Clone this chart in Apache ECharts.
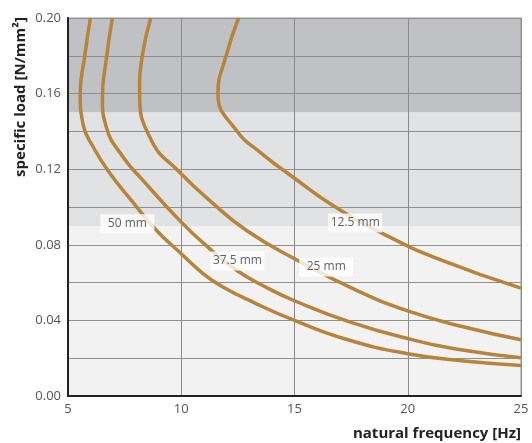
<!DOCTYPE html>
<html>
<head>
<meta charset="utf-8">
<script src="https://cdn.jsdelivr.net/npm/echarts@6/dist/echarts.min.js"></script>
<style>html,body{margin:0;padding:0;background:#fff}#c{width:532px;height:443px}</style>
</head>
<body>
<div id="c"></div>
<script>
// x: natural frequency [Hz], y: specific load [N/mm²]
const curve50 = [[5.99,0.200],[5.74,0.180],[5.54,0.160],[5.66,0.144],[6.10,0.132],[6.84,0.118],[7.80,0.1035],[8.90,0.0877],[10.0,0.0753],[10.96,0.0648],[11.84,0.0577],[13.16,0.0497],[15.0,0.0400],[17.43,0.0295],[20.0,0.0224],[22.49,0.0185],[25.0,0.0162]];
const curve375 = [[6.96,0.200],[6.71,0.180],[6.52,0.1575],[6.69,0.1423],[7.43,0.1265],[8.31,0.1141],[10.0,0.0920],[11.25,0.0780],[12.44,0.0665],[13.72,0.0577],[15.0,0.0504],[17.43,0.0392],[20.0,0.0304],[22.49,0.0242],[25.0,0.0203]];
const curve25 = [[8.65,0.200],[8.28,0.180],[8.16,0.161],[8.68,0.1353],[9.93,0.1184],[11.25,0.1035],[12.87,0.0877],[15.0,0.0726],[17.72,0.0560],[20.0,0.0450],[22.49,0.0365],[25.0,0.0298]];
const curve125 = [[12.53,0.200],[11.98,0.180],[11.62,0.160],[12.43,0.1406],[13.54,0.1284],[15.0,0.1152],[16.68,0.1009],[18.90,0.0859],[21.40,0.0723],[25.0,0.0571]];
const seriesNames = ['50 mm','37.5 mm','25 mm','12.5 mm'];
const labelPoints = [[7.62,0.0911,'50 mm'],[12.48,0.0714,'37.5 mm'],[16.4,0.0683,'25 mm'],[17.68,0.0916,'12.5 mm']];
const bands = [[0.15,0.20,'#c0c1c4'],[0.09,0.15,'#e1e2e4'],[0.00,0.09,'#f2f2f2']];
const xTicks = {min:5, max:25, interval:5};
const yTicks = {min:0, max:0.2, interval:0.02, labelEvery:0.04};

const curveColor = '#b6843b';
const chart = echarts.init(document.getElementById('c'), null, {renderer:'canvas'});
const curves = [curve50, curve375, curve25, curve125];
const series = curves.map((d,i)=>({
  name: seriesNames[i], type:'line', data:d, smooth:0.5, symbol:'none',
  lineStyle:{color:curveColor,width:3.5}, z:5, silent:true
}));
series.unshift({
  name:'bands', type:'line', data:[], z:1, silent:true,
  markArea:{silent:true, z:1, data: bands.map(b=>[{yAxis:b[0], itemStyle:{color:b[2]}},{yAxis:b[1]}])}
});
series.push({
  name:'labels', type:'scatter', symbolSize:1, itemStyle:{color:'rgba(0,0,0,0)'}, z:7, silent:true,
  data: labelPoints.map(p=>({value:[p[0],p[1]], name:p[2]})),
  label:{show:true, position:'inside', formatter:p=>p.name, color:'#3a3a3a', fontSize:12,
    fontFamily:'Open Sans', backgroundColor:'#fff', width:54, align:'center', lineHeight:13, padding:[3,0,3,0]}
});
chart.setOption({
  animation:false,
  grid:{left:68, right:11, top:18, bottom:47, show:true, z:3, borderColor:'#9a9a9a', borderWidth:1, backgroundColor:'transparent'},
  xAxis:{type:'value', min:xTicks.min, max:xTicks.max, interval:xTicks.interval, z:3,
    axisLine:{show:true, onZero:false, lineStyle:{color:'#222',width:2}},
    axisTick:{show:false},
    axisLabel:{color:'#555', fontSize:13, fontFamily:'Open Sans', margin:7},
    splitLine:{show:true, lineStyle:{color:'#8a8a8a',width:1}}},
  yAxis:{type:'value', min:yTicks.min, max:yTicks.max, interval:yTicks.interval, z:3,
    axisLine:{show:true, onZero:false, lineStyle:{color:'#222',width:2}},
    axisTick:{show:false},
    axisLabel:{color:'#555', fontSize:13, fontFamily:'Open Sans', margin:7,
      formatter:v=>{const k=Math.round(v*100); return (k%Math.round(yTicks.labelEvery*100)===0)? v.toFixed(2):'';}},
    splitLine:{show:true, lineStyle:{color:'#8f8f8f',width:1}}},
  graphic:[
    {type:'text', x:21, y:97, rotation:Math.PI/2, z:10,
      style:{text:'specific load [N/mm²]', font:'bold 15px "Open Sans"', fill:'#222', align:'center', verticalAlign:'middle'}},
    {type:'text', x:521, y:434, z:10,
      style:{text:'natural frequency [Hz]', font:'bold 15px "Open Sans"', fill:'#222', align:'right', verticalAlign:'middle'}}
  ],
  series: series
});
</script>
</body>
</html>
